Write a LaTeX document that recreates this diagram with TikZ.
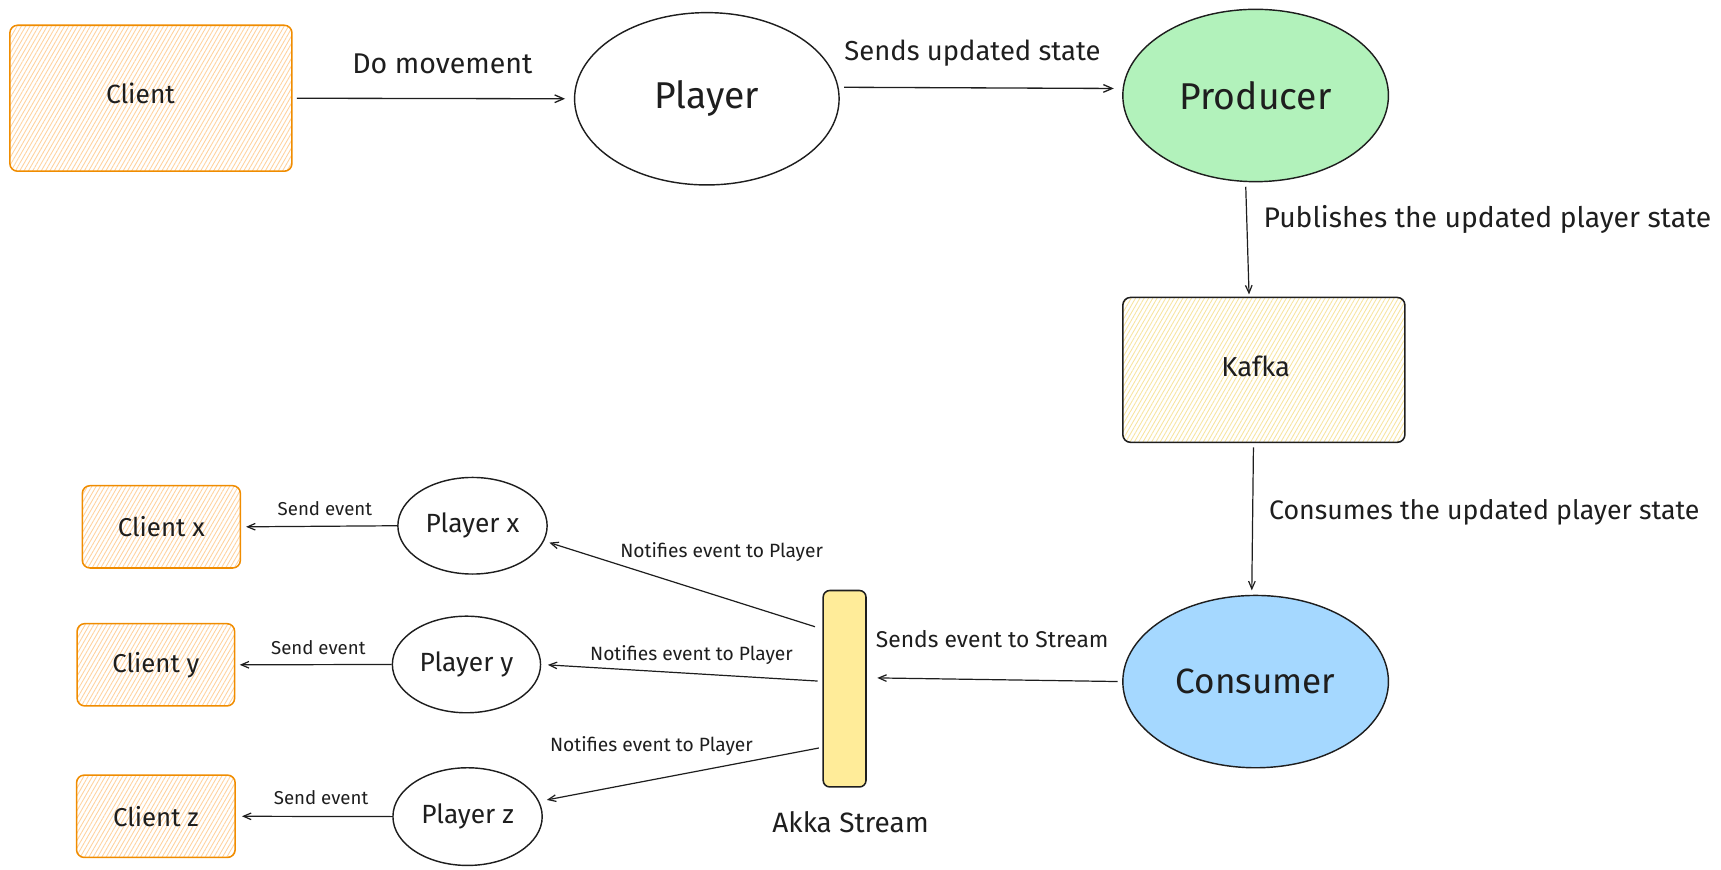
\documentclass[tikz,border=0pt]{standalone}
\usepackage{fontspec}
\setmainfont{Fira Sans}
\usetikzlibrary{arrows.meta,shapes.geometric,patterns.meta}
\definecolor{ink}{HTML}{1E1E1E}
\definecolor{corange}{HTML}{F08C00}
\definecolor{hatchorange}{HTML}{FFD29E}
\definecolor{hatchyellow}{HTML}{F7E4A0}
\definecolor{pgreen}{HTML}{B2F2BB}
\definecolor{cblue}{HTML}{A5D8FF}
\definecolor{byellow}{HTML}{FFEC99}
\newcommand\fsz[1]{\fontsize{#1}{#1}\selectfont}
\begin{document}
\begin{tikzpicture}[x=1pt,y=-1pt,
  ell/.style={ellipse, draw=ink, line width=1.3pt, inner sep=0pt, text=ink},
  hbox/.style={rectangle, rounded corners=7pt, inner sep=0pt, line width=1.4pt, text=ink},
  clientbox/.style={hbox, draw=corange, pattern={Lines[angle=60,distance=3.4pt,line width=0.8pt]}, pattern color=hatchorange},
  kafkabox/.style={hbox, draw=ink, pattern={Lines[angle=60,distance=3.4pt,line width=0.8pt]}, pattern color=hatchyellow},
  arr/.style={draw=ink, line width=1.2pt, -{Straight Barb[length=8pt,width=7pt]}},
  sarr/.style={draw=ink, line width=1.1pt, -{Straight Barb[length=7pt,width=6pt]}},
  lbl/.style={text=ink, inner sep=0pt}]
\useasboundingbox (0,0) rectangle (1568,792);

% top row
\node[clientbox, minimum width=257pt, minimum height=133pt] (client) at (137.5,89.5) {};
\node[lbl] (clientt) at (128,85) {\fsz{24}Client};
\node[ell, minimum width=241pt, minimum height=157pt] (player) at (644,90) {\fsz{34}Player};
\node[ell, fill=pgreen, minimum width=242pt, minimum height=157pt] (producer) at (1144,87) {\fsz{34}Producer};
\node[kafkabox, minimum width=257pt, minimum height=132pt] (kafka) at (1151.5,337) {};
\node[lbl] (kafkat) at (1144,334) {\fsz{25}Kafka};
\node[ell, fill=cblue, minimum width=242pt, minimum height=157pt] (consumer) at (1144,621) {\fsz{32}Consumer};

% stream bar
\node[hbox, draw=ink, fill=byellow, rounded corners=6pt, minimum width=39pt, minimum height=179pt] (bar) at (769.5,627.5) {};
\node[lbl] (akka) at (775,749) {\fsz{25.5}Akka Stream};

% bottom players and clients
\node[ell, minimum width=136pt, minimum height=88pt] (px) at (430.5,479) {\fsz{24}Player x};
\node[ell, minimum width=135pt, minimum height=88pt] (py) at (425,605.4) {\fsz{24}Player y};
\node[ell, minimum width=136pt, minimum height=89pt] (pz) at (426,744) {\fsz{24}Player z};
\node[clientbox, minimum width=144pt, minimum height=75pt] (cx) at (147,480) {\fsz{23.5}Client x};
\node[clientbox, minimum width=143.5pt, minimum height=75pt] (cy) at (142,605.7) {\fsz{23.5}Client y};
\node[clientbox, minimum width=144.5pt, minimum height=75pt] (cz) at (142,743.7) {\fsz{23.5}Client z};

% connectors top
\draw[arr, shorten <=4pt, shorten >=8pt] (client.east) -- (player.west);
\node[lbl] (l1) at (403,58) {\fsz{26}Do movement};
\draw[arr, shorten <=5pt, shorten >=8pt] (player.5) -- (producer.177);
\node[lbl] (l2) at (886,48.6) {\fsz{25}Sends updated state};
\draw[sarr] ([xshift=-9pt,yshift=-4pt]producer.south) -- ([xshift=-13.5pt,yshift=2pt]kafka.north);
\node[lbl, anchor=west] (l3) at (1151,200) {\fsz{25.8}Publishes the updated player state};
\draw[sarr] ([xshift=-9.5pt,yshift=-4pt]kafka.south) -- ([xshift=-3.5pt,yshift=4pt]consumer.north);
\node[lbl, anchor=west] (l4) at (1156,467) {\fsz{24.4}Consumes the updated player state};
\draw[sarr, shorten <=4pt, shorten >=9.6pt] (consumer.west) -- ([yshift=10pt]bar.east);
\node[lbl] (l5) at (904,582) {\fsz{20.8}Sends event to Stream};

% stream to players
\coordinate (s1) at (742.5,571);
\coordinate (s2) at (745,620.5);
\coordinate (s3) at (746,681.5);
\draw[sarr, shorten >=5pt] (s1) -- (px.-12);
\draw[sarr, shorten >=6pt] (s2) -- (py.east);
\draw[sarr, shorten >=7pt] (s3) -- (pz.12);
\node[lbl] (n1) at (657.5,502.6) {\fsz{17.5}Notifies event to Player};
\node[lbl] (n2) at (630,597) {\fsz{17.5}Notifies event to Player};
\node[lbl] (n3) at (593.5,680) {\fsz{17.5}Notifies event to Player};

% players to clients
\draw[sarr, shorten >=4.5pt] (px.west) -- (cx.east);
\draw[sarr, shorten >=4pt] (py.west) -- (cy.east);
\draw[sarr, shorten >=5.5pt] (pz.west) -- (cz.east);
\node[lbl] (e1) at (296,463) {\fsz{17}Send event};
\node[lbl] (e2) at (290,590) {\fsz{17}Send event};
\node[lbl] (e3) at (292.5,727) {\fsz{17}Send event};
\end{tikzpicture}
\end{document}
